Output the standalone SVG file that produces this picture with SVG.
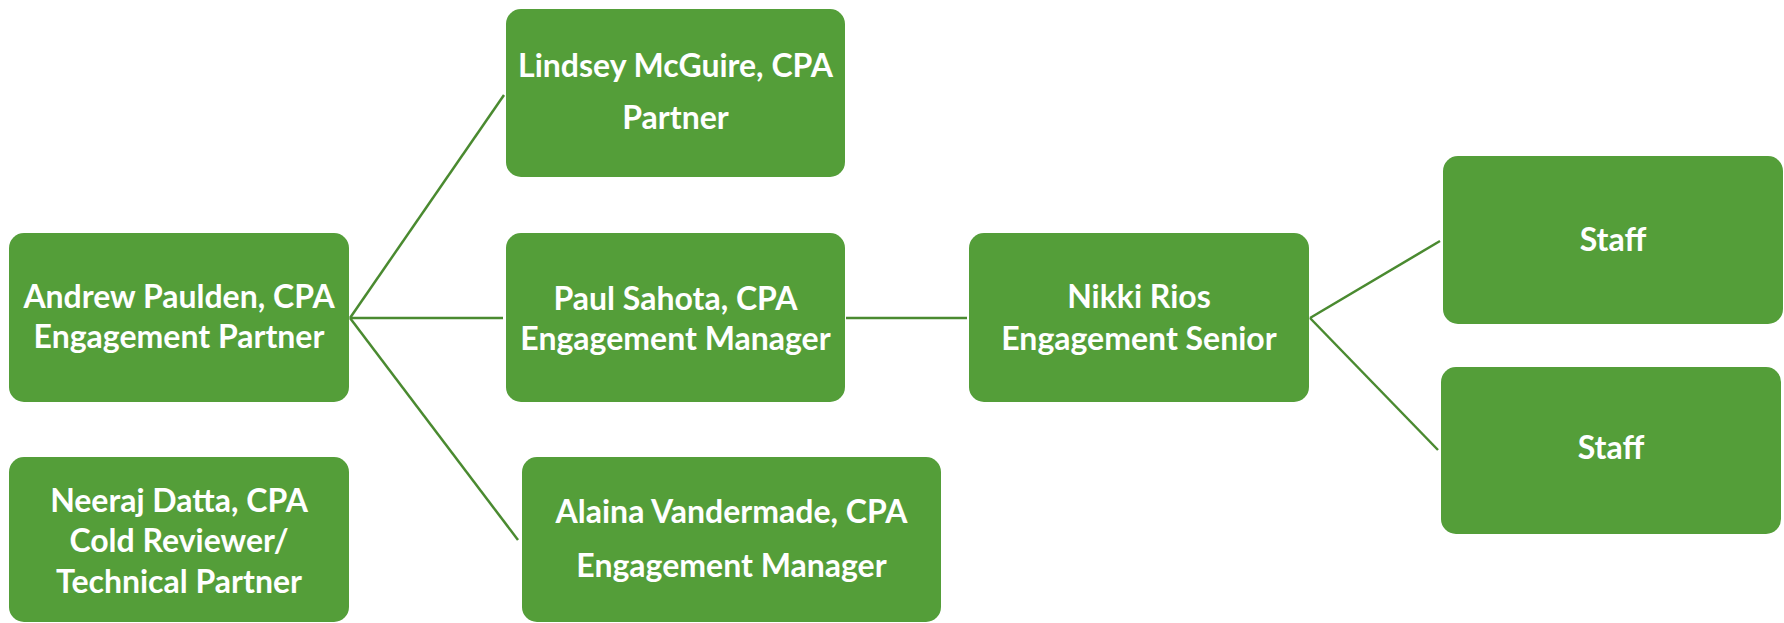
<svg xmlns="http://www.w3.org/2000/svg" width="1784" height="623" viewBox="0 0 1784 623">
<style>
.box{fill:#549E39;}
.t{font-family:Lato,"Liberation Sans",sans-serif;font-weight:700;font-size:32px;fill:#FFFFFF;text-anchor:middle;}
.c{stroke:#4A8A30;stroke-width:2.5;fill:none;}
</style>
<rect width="1784" height="623" fill="#FFFFFF"/>
<g id="connectors">
<line class="c" x1="350" y1="318" x2="504" y2="95"/>
<line class="c" x1="350" y1="318" x2="503" y2="318"/>
<line class="c" x1="350" y1="318" x2="518" y2="540"/>
<line class="c" x1="846" y1="318" x2="967" y2="318"/>
<line class="c" x1="1310" y1="318" x2="1440" y2="241"/>
<line class="c" x1="1310" y1="318" x2="1438" y2="450"/>
</g>
<g id="andrew">
<rect class="box" x="9" y="233" width="340" height="169" rx="15"/>
<text class="t" x="179" y="308">Andrew Paulden, CPA</text>
<text class="t" x="179" y="348">Engagement Partner</text>
</g>
<g id="neeraj">
<rect class="box" x="9" y="457" width="340" height="165" rx="15"/>
<text class="t" x="179" y="512">Neeraj Datta, CPA</text>
<text class="t" x="179" y="552">Cold Reviewer/</text>
<text class="t" x="179" y="593">Technical Partner</text>
</g>
<g id="lindsey">
<rect class="box" x="506" y="9" width="339" height="168" rx="15"/>
<text class="t" x="675.5" y="77">Lindsey McGuire, CPA</text>
<text class="t" x="675.5" y="129">Partner</text>
</g>
<g id="paul">
<rect class="box" x="506" y="233" width="339" height="169" rx="15"/>
<text class="t" x="675.5" y="310">Paul Sahota, CPA</text>
<text class="t" x="675.5" y="350">Engagement Manager</text>
</g>
<g id="alaina">
<rect class="box" x="522" y="457" width="419" height="165" rx="15"/>
<text class="t" x="731.5" y="523">Alaina Vandermade, CPA</text>
<text class="t" x="731.5" y="577">Engagement Manager</text>
</g>
<g id="nikki">
<rect class="box" x="969" y="233" width="340" height="169" rx="15"/>
<text class="t" x="1139" y="308">Nikki Rios</text>
<text class="t" x="1139" y="350">Engagement Senior</text>
</g>
<g id="staff1">
<rect class="box" x="1443" y="156" width="340" height="168" rx="15"/>
<text class="t" x="1613" y="251">Staff</text>
</g>
<g id="staff2">
<rect class="box" x="1441" y="367" width="340" height="167" rx="15"/>
<text class="t" x="1611" y="459">Staff</text>
</g>
</svg>
